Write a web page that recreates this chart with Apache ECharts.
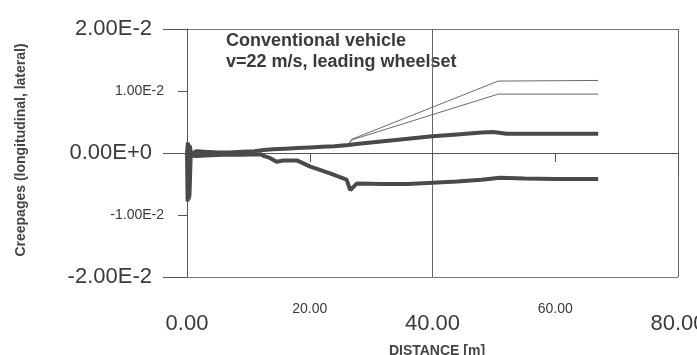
<!DOCTYPE html>
<html>
<head>
<meta charset="utf-8">
<script src="https://cdn.jsdelivr.net/npm/echarts@6/dist/echarts.min.js"></script>
<style>
html,body{margin:0;padding:0;background:#fff;}
#chart{width:697px;height:355px;}
</style>
</head>
<body>
<div id="chart"></div>
<script>
// thick line, upper (rises after ~12 m)
var distA = [0, 0.15, 0.3, 0.45, 0.7, 1.5, 3, 5, 7, 9, 11, 12.5, 14, 16, 18, 20, 22, 24, 26.3, 28, 32, 36, 40, 44, 48, 50, 52, 56, 60, 64, 67];
var creepA = [0, 0.0017, -0.0075, 0.0012, -0.0003, 0.0003, 0.0002, 0.0001, 0.0001, 0.0002, 0.0003, 0.0005, 0.0006, 0.0007, 0.0008, 0.0009, 0.001, 0.0011, 0.0013, 0.0015, 0.0019, 0.0023, 0.0027, 0.003, 0.0033, 0.0034, 0.0031, 0.0031, 0.0031, 0.0031, 0.0031];
// thick line, lower (drops after ~12 m)
var distB = [0, 0.1, 0.25, 0.4, 0.6, 1.5, 3, 6, 9, 12, 12.6, 13.5, 14.6, 15.7, 17.9, 20.1, 23.3, 26, 26.6, 27.7, 32, 36, 40, 44, 48, 51, 55, 60, 64, 67];
var creepB = [0, -0.0078, 0.0014, -0.007, -0.0004, -0.0005, -0.0004, -0.0003, -0.0003, -0.0002, -0.0005, -0.0008, -0.0014, -0.0012, -0.0012, -0.0022, -0.0033, -0.0043, -0.006, -0.0049, -0.005, -0.005, -0.0048, -0.0046, -0.0043, -0.004, -0.0041, -0.0042, -0.0042, -0.0042];
// thin lines
var distC = [0, 12, 20, 26.3, 26.8, 50.7, 67];
var creepC = [0, 0.0004, 0.0009, 0.0013, 0.0022, 0.0116, 0.0117];
var distD = [0, 12, 20, 26.3, 26.8, 50.7, 67];
var creepD = [0, 0.0004, 0.0009, 0.0013, 0.0021, 0.0095, 0.0095];

var xMajorTicks = [0, 40, 80];
var xMajorLabels = ['0.00', '40.00', '80.00'];
var xMinorTicks = [20, 60];
var xMinorLabels = ['20.00', '60.00'];
var yMajorTicks = [-0.02, 0, 0.02];
var yMajorLabels = ['-2.00E-2', '0.00E+0', '2.00E-2'];
var yMinorTicks = [-0.01, 0.01];
var yMinorLabels = ['-1.00E-2', '1.00E-2'];

function pairs(xs, ys) {
  var out = [];
  for (var i = 0; i < xs.length; i++) out.push([xs[i], ys[i]]);
  return out;
}
function pick(ticks, labels, scale) {
  return function (v) {
    for (var i = 0; i < ticks.length; i++) {
      if (Math.round(ticks[i] * scale) === Math.round(v * scale)) return labels[i];
    }
    return '';
  };
}

var font = "'Liberation Sans', Arial, sans-serif";
var ink = '#3a3a3a';
var chart = echarts.init(document.getElementById('chart'));
var option = {
  animation: false,
  grid: {left: 187, right: 19, top: 29, bottom: 78, outerBoundsMode: 'none', containLabel: false},
  xAxis: [
    {
      type: 'value', min: 0, max: 80, interval: 40, position: 'bottom',
      axisLine: {show: true, lineStyle: {color: '#555', width: 1}},
      axisTick: {show: true, length: 23, lineStyle: {color: '#555'}},
      splitLine: {show: true, lineStyle: {color: '#666', width: 1}},
      axisLabel: {formatter: pick(xMajorTicks, xMajorLabels, 1), margin: 36, fontSize: 22, fontFamily: font, color: ink}
    },
    {
      type: 'value', min: 0, max: 80, interval: 20, position: 'bottom',
      axisLine: {show: false},
      axisTick: {show: true, length: 9, lineStyle: {color: '#555'}},
      splitLine: {show: false},
      axisLabel: {formatter: pick(xMinorTicks, xMinorLabels, 1), margin: 25, fontSize: 14, fontFamily: font, color: ink}
    }
  ],
  yAxis: [
    {
      type: 'value', min: -0.02, max: 0.02, interval: 0.02, position: 'left',
      axisLine: {show: true, lineStyle: {color: '#555', width: 1}},
      axisTick: {show: true, length: 24, lineStyle: {color: '#555'}},
      splitLine: {show: true, lineStyle: {color: '#777', width: 1}},
      axisLabel: {formatter: pick(yMajorTicks, yMajorLabels, 1000), margin: 35, fontSize: 22, fontFamily: font, color: ink}
    },
    {
      type: 'value', min: -0.02, max: 0.02, interval: 0.01, position: 'left',
      axisLine: {show: false},
      axisTick: {show: true, length: 9, lineStyle: {color: '#555'}},
      splitLine: {show: false},
      axisLabel: {formatter: pick(yMinorTicks, yMinorLabels, 1000), margin: 23, fontSize: 14, fontFamily: font, color: ink}
    }
  ],
  graphic: [
    {type: 'text', x: 226, y: 31, style: {text: 'Conventional vehicle\nv=22 m/s, leading wheelset', fontSize: 18, fontWeight: 'bold', lineHeight: 21, fontFamily: font, fill: '#3a3a3a'}},
    {type: 'text', x: 21, y: 150, rotation: Math.PI / 2, style: {text: 'Creepages (longitudinal, lateral)', fontSize: 14, fontWeight: 'bold', fontFamily: font, fill: '#444', align: 'center', verticalAlign: 'middle'}},
    {type: 'text', x: 437, y: 351, style: {text: 'DISTANCE [m]', fontSize: 14, fontWeight: 'bold', fontFamily: font, fill: '#444', align: 'center', verticalAlign: 'middle'}}
  ],
  series: [
    {type: 'line', data: pairs(distC, creepC), showSymbol: false, lineStyle: {color: '#6a6a6a', width: 1}},
    {type: 'line', data: pairs(distD, creepD), showSymbol: false, lineStyle: {color: '#6a6a6a', width: 1}},
    {type: 'line', data: pairs(distA, creepA), showSymbol: false, lineStyle: {color: '#4a4a4a', width: 4}},
    {type: 'line', data: pairs(distB, creepB), showSymbol: false, lineStyle: {color: '#4a4a4a', width: 4}}
  ]
};
chart.setOption(option);
</script>
</body>
</html>
